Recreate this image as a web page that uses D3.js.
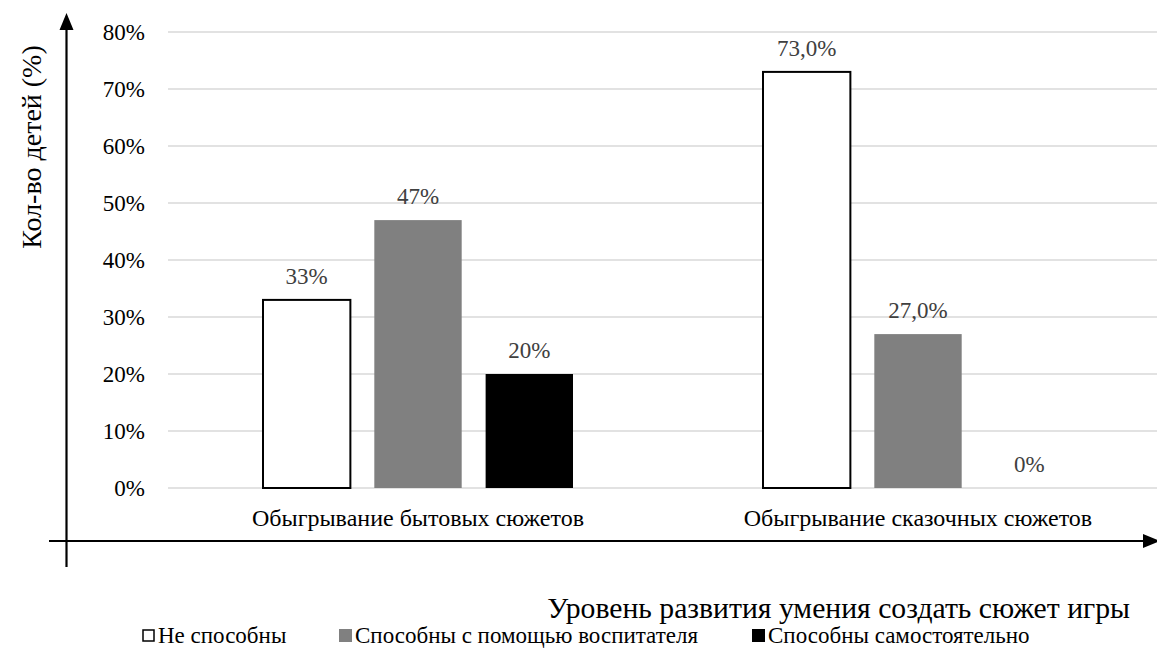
<!DOCTYPE html>
<html>
<head>
<meta charset="utf-8">
<script src="https://cdn.jsdelivr.net/npm/d3@7"></script>
<style>
  html, body { margin: 0; padding: 0; background: #fff; }
</style>
</head>
<body>
<svg id="chart" width="1157" height="648" font-family="'Liberation Serif', 'DejaVu Serif', serif"></svg>
<script>
// Categories along the x axis
const categories = ["Обыгрывание бытовых сюжетов", "Обыгрывание сказочных сюжетов"];
// Series names (legend order)
const seriesNames = ["Не способны", "Способны с помощью воспитателя", "Способны самостоятельно"];
// Values per series, one per category (percent)
const notAble = [33, 73];
const withTeacher = [47, 27];
const independent = [20, 0];
// Value labels as printed above the bars
const notAbleLabels = ["33%", "73,0%"];
const withTeacherLabels = ["47%", "27,0%"];
const independentLabels = ["20%", "0%"];
// Y axis ticks
const yTicks = [0, 10, 20, 30, 40, 50, 60, 70, 80];

const seriesValues = [notAble, withTeacher, independent];
const seriesLabels = [notAbleLabels, withTeacherLabels, independentLabels];
const fills = ["#ffffff", "#808080", "#000000"];
const strokes = ["#000000", "none", "none"];

const FONT = "'Liberation Serif', 'DejaVu Serif', serif";
const svg = d3.select("#chart");

const plotLeft = 168, plotRight = 1168, plotTop = 32, plotBottom = 488;

const x0 = d3.scaleBand().domain(categories).range([plotLeft, plotRight]).paddingInner(0).paddingOuter(0);
const x1 = d3.scaleBand().domain(d3.range(seriesNames.length))
  .range([95, 405]).paddingInner(0.215).paddingOuter(0);
const y = d3.scaleLinear().domain([0, 80]).range([plotBottom, plotTop]);

// Gridlines
svg.append("g").selectAll("line").data(yTicks).join("line")
  .attr("x1", plotLeft).attr("x2", plotRight)
  .attr("y1", d => y(d)).attr("y2", d => y(d))
  .attr("stroke", "#d9d9d9").attr("stroke-width", 1.5);

// Y tick labels
svg.append("g").selectAll("text").data(yTicks).join("text")
  .attr("x", 145).attr("y", d => y(d) + 7.5)
  .attr("text-anchor", "end")
  .attr("font-family", FONT)
  .attr("font-size", 23).attr("fill", "#000")
  .text(d => d + "%");

// Bars
const rows = [];
categories.forEach((c, ci) => {
  seriesValues.forEach((vals, si) => {
    rows.push({ c, si, v: vals[ci], label: seriesLabels[si][ci] });
  });
});

const bars = svg.append("g");
bars.selectAll("rect").data(rows.filter(d => d.v > 0)).join("rect")
  .attr("x", d => x0(d.c) + x1(d.si))
  .attr("y", d => y(d.v))
  .attr("width", x1.bandwidth())
  .attr("height", d => y(0) - y(d.v))
  .attr("fill", d => fills[d.si])
  .attr("stroke", d => strokes[d.si])
  .attr("stroke-width", 2);

// Value labels
svg.append("g").selectAll("text").data(rows).join("text")
  .attr("x", d => x0(d.c) + x1(d.si) + x1.bandwidth() / 2)
  .attr("y", d => y(d.v) - 16)
  .attr("text-anchor", "middle")
  .attr("font-family", FONT)
  .attr("font-size", 23).attr("fill", "#404040")
  .text(d => d.label);

// Category labels
svg.append("g").selectAll("text").data(categories).join("text")
  .attr("x", d => x0(d) + x0.bandwidth() / 2)
  .attr("y", 526)
  .attr("text-anchor", "middle")
  .attr("font-family", FONT)
  .attr("font-size", 24).attr("fill", "#000")
  .text(d => d);

// Axes with arrowheads
const axisX = 66.5, axisY = 541;
svg.append("line").attr("x1", axisX).attr("x2", axisX).attr("y1", 26).attr("y2", 567)
  .attr("stroke", "#000").attr("stroke-width", 2.2);
svg.append("path").attr("d", `M${axisX},13 L${axisX - 7},30 L${axisX + 7},30 Z`).attr("fill", "#000");
svg.append("line").attr("x1", 49).attr("x2", 1145).attr("y1", axisY).attr("y2", axisY)
  .attr("stroke", "#000").attr("stroke-width", 2.2);
svg.append("path").attr("d", `M1160,${axisY} L1143,${axisY - 7} L1143,${axisY + 7} Z`).attr("fill", "#000");

// Axis titles
svg.append("text")
  .attr("transform", "translate(41,147) rotate(-90)")
  .attr("text-anchor", "middle")
  .attr("font-family", FONT)
  .attr("font-size", 28).attr("fill", "#000")
  .text("Кол-во детей (%)");

svg.append("text")
  .attr("x", 1130).attr("y", 618)
  .attr("text-anchor", "end")
  .attr("font-family", FONT)
  .attr("font-size", 29.7).attr("fill", "#000")
  .text("Уровень развития умения создать сюжет игры");

// Legend
const legendX = [142, 339, 752];
const legend = svg.append("g");
seriesNames.forEach((name, i) => {
  const g = legend.append("g").attr("transform", `translate(${legendX[i]},629)`);
  g.append("rect").attr("x", i === 0 ? 1 : 0).attr("y", i === 0 ? 1 : 0)
    .attr("width", i === 0 ? 11 : 13).attr("height", i === 0 ? 11 : 13)
    .attr("fill", fills[i]).attr("stroke", strokes[i]).attr("stroke-width", 1.5);
  g.append("text").attr("x", 16).attr("y", 14)
    .attr("font-family", FONT)
    .attr("font-size", 23).attr("fill", "#000")
    .text(name);
});
</script>
</body>
</html>
